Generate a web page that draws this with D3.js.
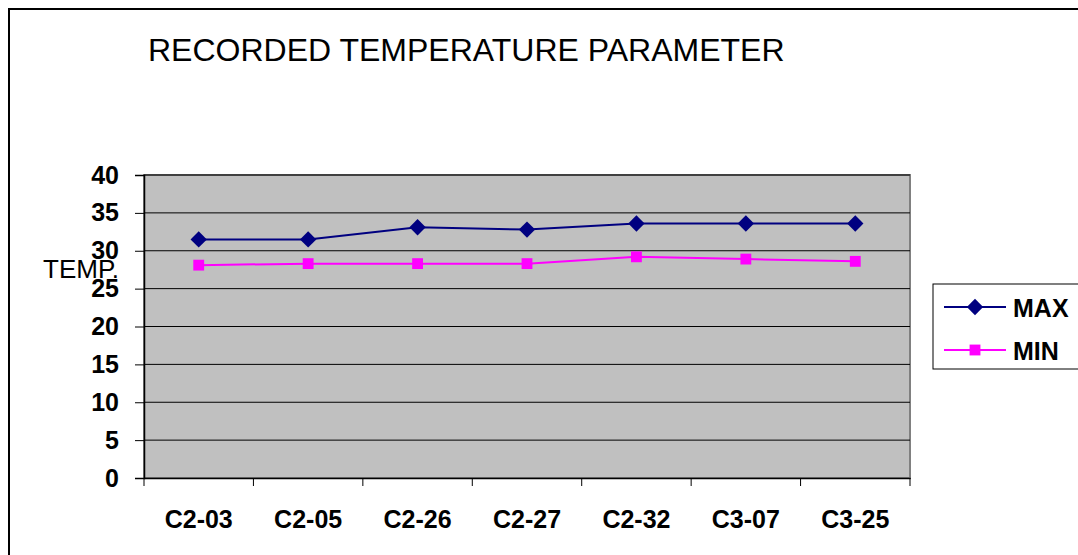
<!DOCTYPE html>
<html>
<head>
<meta charset="utf-8">
<script src="https://cdn.jsdelivr.net/npm/d3@7"></script>
<style>
  body { margin: 0; background: #fff; }
  svg { display: block; font-family: Arial, "Liberation Sans", sans-serif; }
</style>
</head>
<body>
<svg id="chart"></svg>
<script>
const categories = ['C2-03', 'C2-05', 'C2-26', 'C2-27', 'C2-32', 'C3-07', 'C3-25'];
const maxTemps = [31.5, 31.5, 33.1, 32.8, 33.6, 33.6, 33.6];
const minTemps = [28.1, 28.3, 28.3, 28.3, 29.2, 28.9, 28.6];
const yTicks = [0, 5, 10, 15, 20, 25, 30, 35, 40];

const series = [
    { name: 'MAX', values: maxTemps, color: '#000080', shape: d3.symbolDiamond2, size: 170 },
    { name: 'MIN', values: minTemps, color: '#ff00ff', shape: d3.symbolSquare2, size: 150 }
];

const width = 1078, height = 555;
const plot = { left: 144, top: 175, right: 910, bottom: 478 };

const svg = d3.select('#chart')
    .attr('width', width)
    .attr('height', height);

// outer frame
svg.append('rect')
    .attr('x', 9).attr('y', 9)
    .attr('width', 1100).attr('height', 600)
    .attr('fill', 'none')
    .attr('stroke', '#000')
    .attr('stroke-width', 2);

svg.append('text')
    .attr('x', 148).attr('y', 61)
    .attr('font-size', '32px')
    .text('RECORDED TEMPERATURE PARAMETER');

const x = d3.scaleBand().domain(categories).range([plot.left, plot.right]);
const y = d3.scaleLinear().domain([0, 40]).range([plot.bottom, plot.top]);

svg.append('rect')
    .attr('x', plot.left).attr('y', plot.top)
    .attr('width', plot.right - plot.left)
    .attr('height', plot.bottom - plot.top)
    .attr('fill', '#c0c0c0')
    .attr('stroke', '#808080')
    .attr('stroke-width', 2);

// gridlines
svg.append('g')
    .selectAll('line')
    .data(yTicks.filter(t => t > 0))
    .enter()
    .append('line')
    .attr('x1', plot.left).attr('x2', plot.right)
    .attr('y1', d => y(d)).attr('y2', d => y(d))
    .attr('stroke', '#000')
    .attr('stroke-width', 1);

// y axis
const yAxis = svg.append('g')
    .attr('transform', `translate(${plot.left},0)`)
    .call(d3.axisLeft(y).tickValues(yTicks).tickSize(9).tickPadding(16));
yAxis.select('.domain').attr('stroke', '#000').attr('stroke-width', 1.5);
yAxis.selectAll('text')
    .attr('font-size', '25px')
    .attr('font-weight', 'bold')
    .attr('fill', '#000');

// x axis
const xAxis = svg.append('g')
    .attr('transform', `translate(0,${plot.bottom})`)
    .call(d3.axisBottom(x).tickSize(0));
xAxis.select('.domain').attr('stroke', '#000').attr('stroke-width', 1.5);
xAxis.selectAll('text')
    .attr('dy', null)
    .attr('y', 50)
    .attr('font-size', '25px')
    .attr('font-weight', 'bold')
    .attr('fill', '#000');
svg.append('g')
    .selectAll('line')
    .data(categories.concat(['end']))
    .enter()
    .append('line')
    .attr('x1', d => d === 'end' ? plot.right : x(d))
    .attr('x2', d => d === 'end' ? plot.right : x(d))
    .attr('y1', plot.bottom).attr('y2', plot.bottom + 8)
    .attr('stroke', '#000');

svg.append('text')
    .attr('x', 43).attr('y', 278)
    .attr('font-size', '26px')
    .text('TEMP.');

const line = d3.line()
    .x((d, i) => x(categories[i]) + x.bandwidth() / 2)
    .y(d => y(d));

series.forEach(s => {
    svg.append('path')
        .attr('d', line(s.values))
        .attr('fill', 'none')
        .attr('stroke', s.color)
        .attr('stroke-width', 2);
    svg.append('g')
        .selectAll('path')
        .data(s.values)
        .enter()
        .append('path')
        .attr('transform', (d, i) => `translate(${x(categories[i]) + x.bandwidth() / 2},${y(d)})`)
        .attr('d', d3.symbol().type(s.shape).size(s.size))
        .attr('fill', s.color);
});

// legend
const legend = svg.append('g').attr('transform', 'translate(933,284)');
legend.append('rect')
    .attr('width', 160).attr('height', 85)
    .attr('fill', '#fff')
    .attr('stroke', '#000')
    .attr('stroke-width', 1);
series.forEach((s, i) => {
    const ly = 23 + i * 43;
    legend.append('line')
        .attr('x1', 11).attr('x2', 73)
        .attr('y1', ly).attr('y2', ly)
        .attr('stroke', s.color)
        .attr('stroke-width', 2);
    legend.append('path')
        .attr('transform', `translate(42,${ly})`)
        .attr('d', d3.symbol().type(s.shape).size(s.size))
        .attr('fill', s.color);
    legend.append('text')
        .attr('x', 80).attr('y', ly + 10)
        .attr('font-size', '25px')
        .attr('font-weight', 'bold')
        .text(s.name);
});
</script>
</body>
</html>
